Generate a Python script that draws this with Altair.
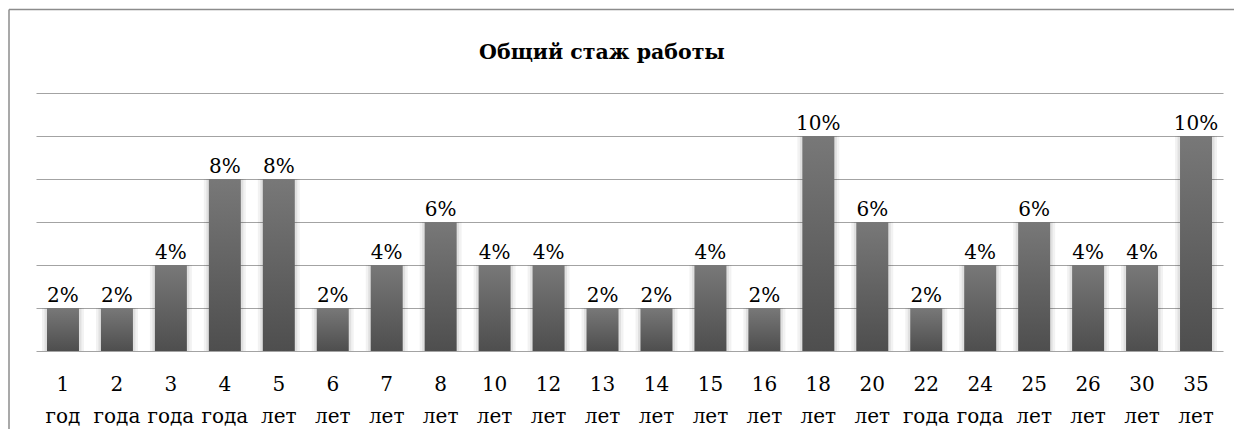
import altair as alt
import pandas as pd

categories = ["1 год", "2 года", "3 года", "4 года", "5 лет", "6 лет", "7 лет", "8 лет",
              "10 лет", "12 лет", "13 лет", "14 лет", "15 лет", "16 лет", "18 лет",
              "20 лет", "22 года", "24 года", "25 лет", "26 лет", "30 лет", "35 лет"]
values = [2, 2, 4, 8, 8, 2, 4, 6, 4, 4, 2, 2, 4, 2, 10, 6, 2, 4, 6, 4, 4, 10]
title_text = "Общий стаж работы"

df = pd.DataFrame({"cat": categories, "val": values})
df["lbl"] = df["val"].astype(str) + "%"

FONT = "DejaVu Serif"

x = alt.X("cat:N", sort=categories,
          scale=alt.Scale(paddingInner=0.41, paddingOuter=0.205),
          axis=alt.Axis(title=None, labelAngle=0, domain=False, ticks=False, grid=False,
                        labelExpr="split(datum.label, ' ')", labelFont=FONT,
                        labelFontSize=20, labelColor="#000000", labelPadding=39,
                        labelLineHeight=32, labelBaseline="alphabetic"))
y = alt.Y("val:Q", scale=alt.Scale(domain=[0, 12], nice=False),
          axis=alt.Axis(title=None, labels=False, ticks=False, domain=False,
                        values=[0, 2, 4, 6, 8, 10, 12], gridColor="#a3a3a3",
                        gridWidth=1.2))

one = alt.Chart(pd.DataFrame({"k": [1]}))
base = alt.Chart(df)

frame_v = one.mark_rule(color="#8c8c8c", strokeWidth=1.5).encode(
    x=alt.value(-27), y=alt.value(-83.5), y2=alt.value(336))
frame_h = one.mark_rule(color="#8c8c8c", strokeWidth=1.5).encode(
    x=alt.value(-27), x2=alt.value(1198), y=alt.value(-83.5))

shadow1 = base.mark_bar(color="#000000", opacity=0.05, width=42).encode(x=x, y=y)
shadow2 = base.mark_bar(color="#000000", opacity=0.07, width=37).encode(x=x, y=y)

bars = base.mark_bar(
    width=32,
    color={"gradient": "linear", "x1": 0, "x2": 0, "y1": 0, "y2": 1,
           "stops": [{"offset": 0, "color": "#787878"},
                     {"offset": 1, "color": "#4e4e4e"}]}
).encode(x=x, y=y)

labels = base.mark_text(baseline="alphabetic", dy=-6, font=FONT, fontSize=20,
                        color="#000000").encode(x=x, y=y, text="lbl:N")

title = one.mark_text(font=FONT, fontSize=20.5, fontWeight="bold", color="#000000",
                      baseline="middle").encode(
    x=alt.value(566), y=alt.value(-40), text=alt.value(title_text))

chart = alt.layer(frame_v, frame_h, shadow1, shadow2, bars, labels, title).properties(
    width=1187, height=258,
    background="#ffffff",
    autosize=alt.AutoSizeParams(type="none"),
    padding={"left": 28, "top": 85, "right": 11, "bottom": 78},
).configure_view(strokeWidth=0, stroke="transparent")

chart.save("out.html", embed_options={"renderer": "svg", "actions": False})
